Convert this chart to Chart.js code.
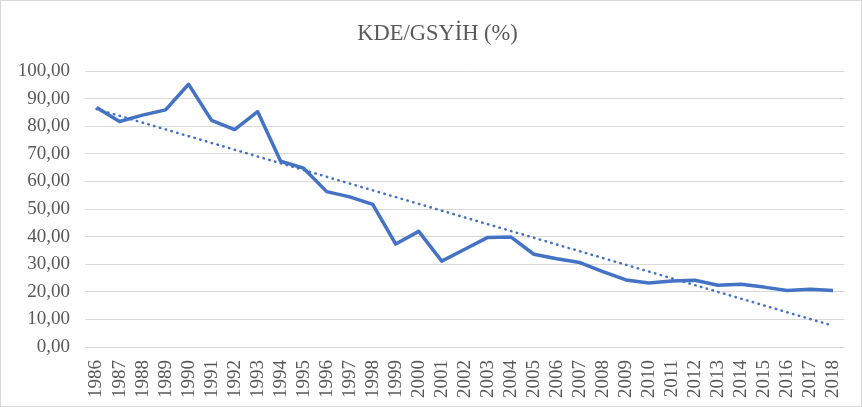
<!DOCTYPE html>
<html>
<head>
<meta charset="utf-8">
<script src="https://cdn.jsdelivr.net/npm/chart.js@4.4.1/dist/chart.umd.min.js"></script>
<style>
  html, body { margin: 0; padding: 0; background: #fff; }
  #wrap { width: 860px; height: 405px; border: 1px solid #d9d9d9; }
</style>
</head>
<body>
<div id="wrap"><canvas id="chart" width="860" height="405"></canvas></div>
<script>
// years on the x axis
const years = ['1986','1987','1988','1989','1990','1991','1992','1993','1994','1995','1996',
  '1997','1998','1999','2000','2001','2002','2003','2004','2005','2006','2007','2008',
  '2009','2010','2011','2012','2013','2014','2015','2016','2017','2018'];

// KDE/GSYIH values
const ratio = [86.8, 81.7, 84.0, 85.9, 95.2, 82.1, 78.8, 85.3, 67.3, 64.8, 56.3,
  54.4, 51.7, 37.3, 41.9, 31.1, 35.4, 39.7, 39.9, 33.6, 32.0, 30.6, 27.3,
  24.3, 23.2, 23.9, 24.2, 22.4, 22.7, 21.7, 20.5, 20.9, 20.5];

// linear trendline ends
const trendStart = 86.2;
const trendEnd = 7.7;
const trend = years.map((y, i) => i === 0 ? trendStart : (i === years.length - 1 ? trendEnd : null));

const yTicks = { min: 0, max: 100, step: 10 };

const grey = '#595959';
const serif = "'Liberation Serif', 'Times New Roman', serif";

// the y labels stick out into the left padding, so widen their clip box
const widenYLabels = {
  id: 'widenYLabels',
  afterLayout(chart) {
    chart.scales.y.left = 0;
  }
};

new Chart(document.getElementById('chart'), {
  type: 'line',
  data: {
    labels: years,
    datasets: [{
      label: 'KDE/GSYİH',
      data: ratio,
      borderColor: '#4472C4',
      borderWidth: 3.5,
      pointRadius: 0,
      tension: 0,
      borderJoinStyle: 'round'
    }, {
      label: 'Trend',
      data: trend,
      spanGaps: true,
      borderColor: '#4472C4',
      borderWidth: 2.5,
      borderDash: [0.5, 5.5],
      borderCapStyle: 'round',
      pointRadius: 0
    }]
  },
  plugins: [widenYLabels],
  options: {
    responsive: false,
    animation: false,
    layout: { padding: { left: 24, right: 11, bottom: 0 } },
    plugins: {
      legend: { display: false },
      tooltip: { enabled: false },
      title: {
        display: true,
        text: 'KDE/GSYİH (%)',
        color: grey,
        font: { family: serif, size: 22.5, weight: 'normal' },
        padding: { top: 20, bottom: 23 }
      }
    },
    scales: {
      x: {
        offset: true,
        afterFit: s => { s.height = 59; },
        grid: { display: false },
        border: { display: false },
        ticks: {
          color: grey,
          font: { family: serif, size: 19 },
          minRotation: 90,
          maxRotation: 90,
          autoSkip: false,
          padding: 5
        }
      },
      y: {
        min: yTicks.min,
        max: yTicks.max,
        afterFit: s => { s.width = 60; },
        grid: { color: '#d9d9d9', drawTicks: false },
        border: { display: false },
        ticks: {
          stepSize: yTicks.step,
          color: grey,
          font: { family: serif, size: 19 },
          padding: 15,
          callback: v => v.toFixed(2).replace('.', ',')
        }
      }
    }
  }
});
</script>
</body>
</html>
